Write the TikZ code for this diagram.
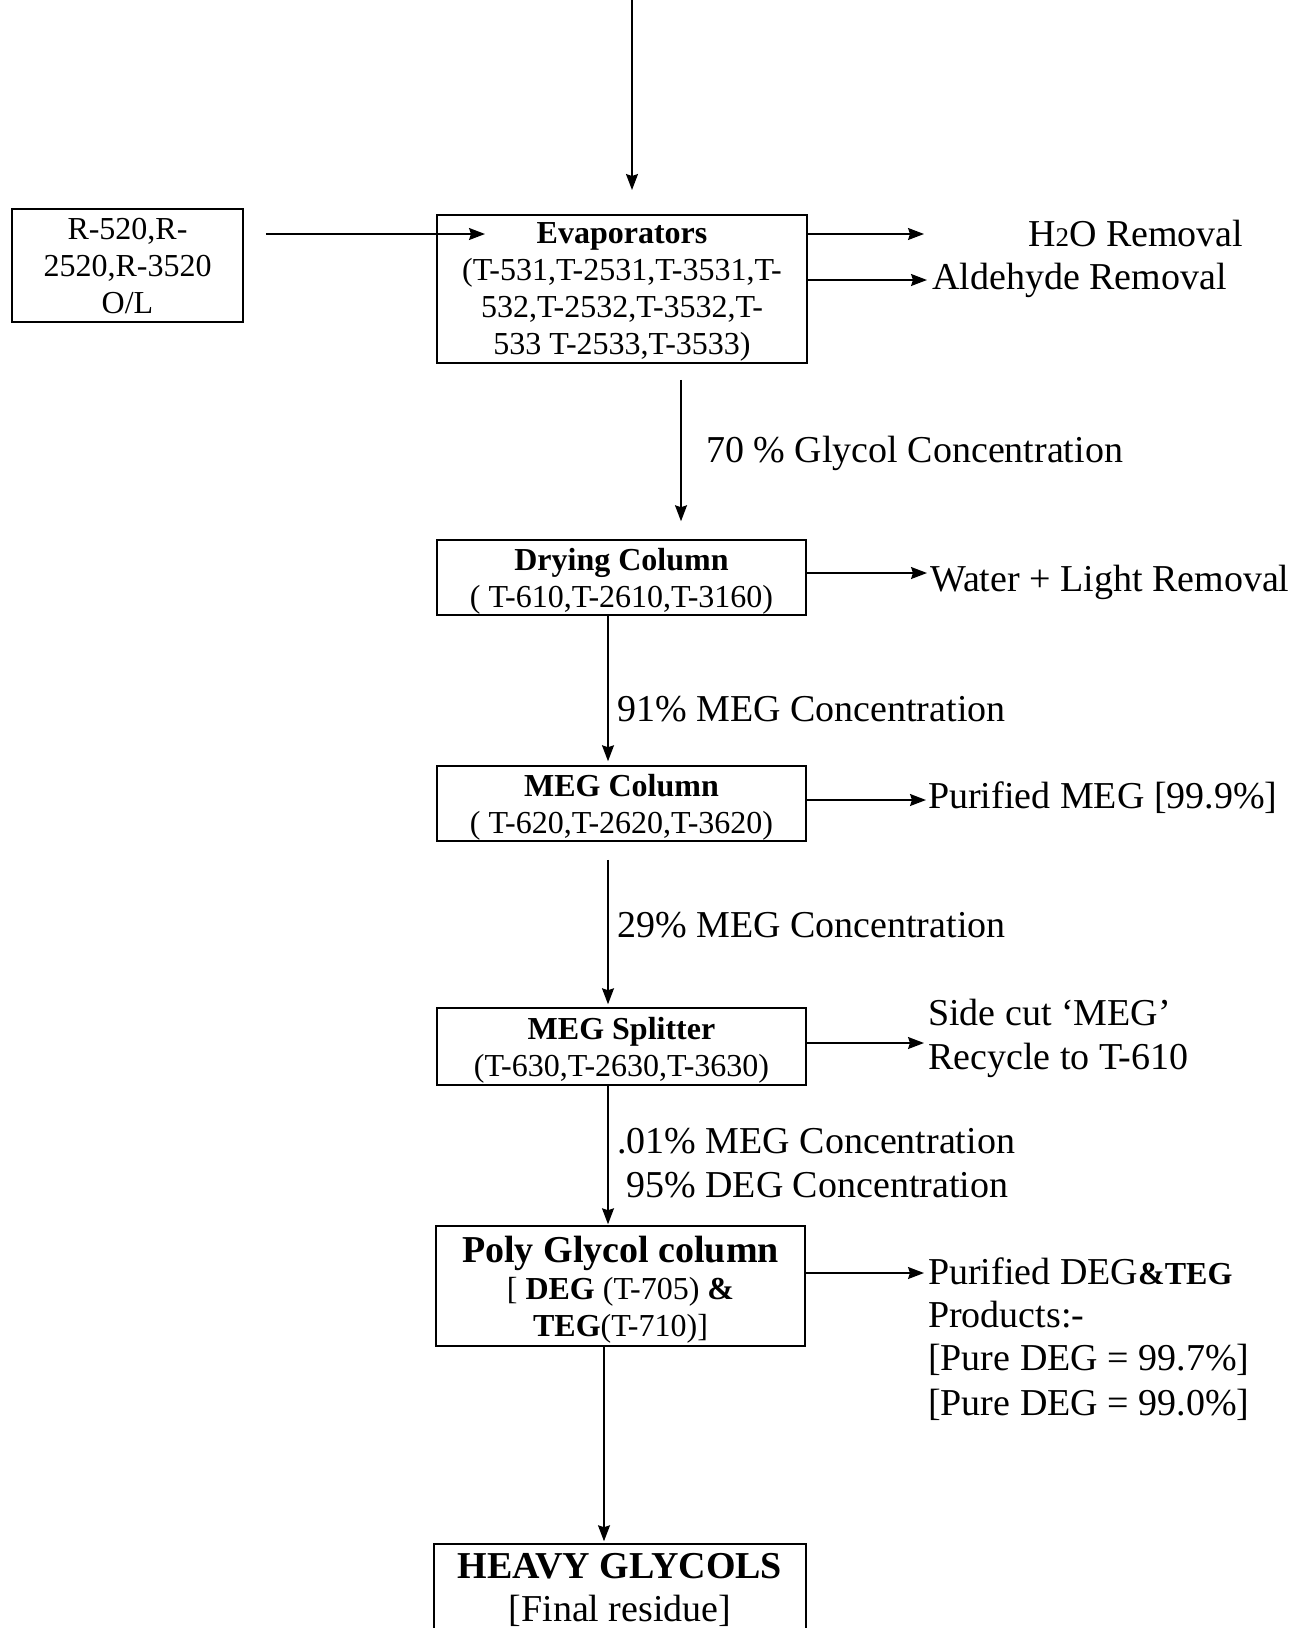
\documentclass[tikz,border=0pt]{standalone}
\usepackage{fontspec}
\setmainfont{Liberation Serif}
\usetikzlibrary{arrows.meta,calc}
\tikzset{
  box/.style={draw, line width=1.5pt, inner sep=0pt, align=center, text depth=0pt, font=\fontsize{32}{37}\selectfont},
  arr/.style={-{Stealth[length=16pt,width=12pt,inset=2pt]}, line width=1.5pt},
  lbl/.style={anchor=base west, inner sep=0pt, font=\fontsize{38}{44}\selectfont}
}
\begin{document}
\begin{tikzpicture}[x=1pt,y=-1pt]
\useasboundingbox (0,0) rectangle (1295,1628);
% boxes
\node[box, minimum width=231pt, minimum height=113pt] (rin) at (127.5,265.5) {R-520,R-\\2520,R-3520\\O/L};
\node[box, minimum width=370pt, minimum height=148pt] (evap) at (622,289) {\textbf{Evaporators}\\(T-531,T-2531,T-3531,T-\\532,T-2532,T-3532,T-\\533 T-2533,T-3533)};
\node[box, minimum width=369pt, minimum height=75pt] (dry) at (621.5,577.5) {\textbf{Drying Column}\\( T-610,T-2610,T-3160)};
\node[box, minimum width=369pt, minimum height=75pt] (megc) at (621.5,803.5) {\textbf{MEG Column}\\( T-620,T-2620,T-3620)};
\node[box, minimum width=369pt, minimum height=77pt] (split) at (621.5,1046.5) {\textbf{MEG Splitter}\\(T-630,T-2630,T-3630)};
\node[box, minimum width=369pt, minimum height=120pt] (poly) at (620.5,1286) {{\fontsize{38}{40}\selectfont\bfseries Poly Glycol column}\\{}[ \textbf{DEG} (T-705) \textbf{\&}\\\textbf{TEG}(T-710)]};
\node[box, minimum width=372pt, minimum height=87pt, font=\fontsize{38}{43}\selectfont] (heavy) at (620,1587.5) {\textbf{HEAVY GLYCOLS}\\{}[Final residue]};
% side labels
\node[lbl] (h2o) at (1028,246) {H{\fontsize{27}{30}\selectfont 2}O Removal};
\node[lbl] (ald) at (932,289) {Aldehyde Removal};
\node[lbl] (c70) at (706,462) {70 \% Glycol Concentration};
\node[lbl] (wat) at (930,591) {Water + Light Removal};
\node[lbl] (c91) at (617,721) {91\% MEG Concentration};
\node[lbl] (pmeg) at (928,808) {Purified MEG [99.9\%]};
\node[lbl] (c29) at (617,937) {29\% MEG Concentration};
\node[lbl] (side1) at (928,1025) {Side cut ‘MEG’};
\node[lbl] (side2) at (928,1069) {Recycle to T-610};
\node[lbl] (c01) at (617,1153) {.01\% MEG Concentration};
\node[lbl] (c95) at (626,1197) {95\% DEG Concentration};
\node[lbl] (pd1) at (928,1284) {Purified DEG{\fontsize{32}{37}\selectfont\bfseries\&TEG}};
\node[lbl] (pd2) at (928,1327) {Products:-};
\node[lbl] (pd3) at (928,1370) {[Pure DEG = 99.7\%]};
\node[lbl] (pd4) at (928,1415) {[Pure DEG = 99.0\%]};
% free ends
\coordinate (top) at (632,0);
\coordinate (topend) at (632,190);
\coordinate (evin) at (485,234);
\coordinate (o1) at (924,234);
\coordinate (o2) at (927,280);
\coordinate (o3) at (927,573);
\coordinate (o4) at (926,800);
\coordinate (o5) at (924,1043);
\coordinate (o6) at (924,1273);
% connectors
\draw[arr] (top) -- (topend);
\draw[arr, shorten <=22pt] (rin.east |- evin) -- (evin);
\draw[arr] (evap.east |- o1) -- (o1);
\draw[arr] (evap.east |- o2) -- (o2);
\draw[arr, shorten <=16pt, shorten >=18pt] (evap.south -| 681,0) -- (dry.north -| 681,0);
\draw[arr, shorten >=4pt] (dry.south -| 608,0) -- (megc.north -| 608,0);
\draw[arr] (dry.east |- o3) -- (o3);
\draw[arr] (megc.east |- o4) -- (o4);
\draw[arr, shorten <=18pt, shorten >=3pt] (megc.south -| 608,0) -- (split.north -| 608,0);
\draw[arr] (split.east |- o5) -- (o5);
\draw[arr, shorten >=1pt] (split.south -| 608,0) -- (poly.north -| 608,0);
\draw[arr] (poly.east |- o6) -- (o6);
\draw[arr, shorten >=2pt] (poly.south -| 604,0) -- (heavy.north -| 604,0);
\end{tikzpicture}
\end{document}
